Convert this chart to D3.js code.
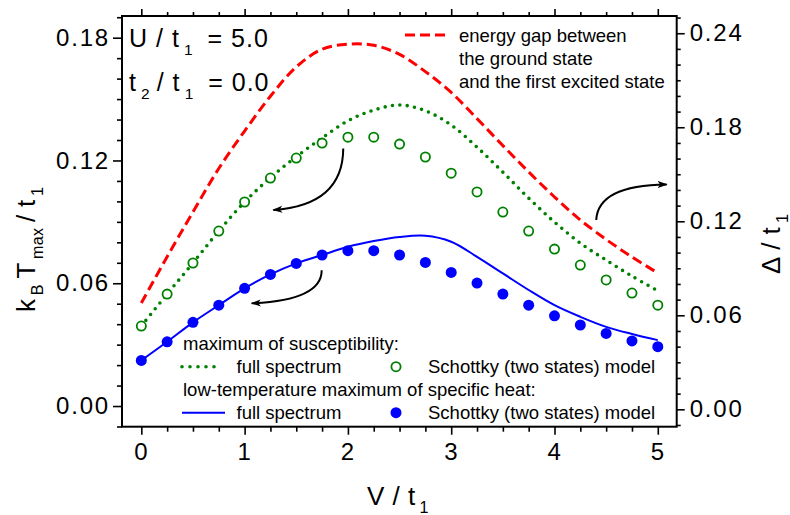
<!DOCTYPE html>
<html>
<head>
<meta charset="utf-8">
<script src="https://cdn.jsdelivr.net/npm/d3@7"></script>
<style>
  body { margin: 0; background: #fff; }
  text { font-family: "Liberation Sans", Arial, sans-serif; fill: #000; }
</style>
</head>
<body>
<svg id="chart"></svg>
<script>
// V / t1 grid
const vValues = [0, 0.25, 0.5, 0.75, 1, 1.25, 1.5, 1.75, 2, 2.25, 2.5, 2.75, 3, 3.25, 3.5, 3.75, 4, 4.25, 4.5, 4.75, 5];

// maximum of susceptibility (left axis)
const chiFull = [0.0391, 0.0547, 0.0699, 0.0855, 0.0997, 0.1116, 0.1218, 0.1310, 0.1394, 0.1446, 0.1471, 0.1443, 0.1373, 0.1265, 0.1143, 0.1016, 0.0899, 0.0796, 0.0713, 0.0635, 0.0563];
const chiSchottky = [0.0391, 0.0547, 0.0699, 0.0855, 0.0997, 0.1114, 0.1212, 0.1285, 0.1314, 0.1314, 0.1280, 0.1217, 0.1138, 0.1046, 0.0948, 0.0855, 0.0767, 0.0689, 0.0616, 0.0552, 0.0493];

// low-temperature maximum of specific heat (left axis)
const heatFull = [0.0223, 0.0314, 0.0409, 0.0493, 0.0575, 0.0643, 0.0697, 0.0738, 0.0778, 0.0806, 0.0826, 0.0832, 0.0803, 0.0729, 0.0648, 0.0567, 0.0493, 0.0436, 0.0387, 0.0352, 0.0322];
const heatSchottky = [0.0223, 0.0314, 0.0409, 0.0493, 0.0575, 0.0643, 0.0697, 0.0738, 0.0759, 0.0759, 0.0738, 0.0702, 0.0653, 0.0601, 0.0547, 0.0493, 0.0441, 0.0396, 0.0355, 0.0318, 0.0290];

// energy gap Delta / t1 (right axis)
const gapValues = [0.0678, 0.0974, 0.1259, 0.1537, 0.1776, 0.1998, 0.2185, 0.2298, 0.2330, 0.2323, 0.2265, 0.2155, 0.2022, 0.1855, 0.1683, 0.1515, 0.1355, 0.1208, 0.1084, 0.0972, 0.0870];

// tick labels
const xTicks = [0, 1, 2, 3, 4, 5];
const leftTicks = [0, 0.06, 0.12, 0.18];
const rightTicks = [0, 0.06, 0.12, 0.18, 0.24];

// curved arrows, in (V, left axis) coordinates: start, control, end
const arrows = [
  [[1.955, 0.1259], [1.952, 0.0982], [1.278, 0.0958]],
  [[1.746, 0.0664], [1.749, 0.0518], [1.069, 0.0502]],
  [[4.404, 0.0909], [4.421, 0.1080], [5.086, 0.1083]]
];

const W = 790, H = 515;
const margin = { top: 16, right: 113.3, bottom: 88.3, left: 122 };
const width = W - margin.left - margin.right;
const height = H - margin.top - margin.bottom;

const svg = d3.select('#chart').attr('width', W).attr('height', H);

const defs = svg.append('defs');
defs.append('marker')
  .attr('id', 'head')
  .attr('viewBox', '0 0 10 10')
  .attr('refX', 9).attr('refY', 5)
  .attr('markerWidth', 10).attr('markerHeight', 10)
  .attr('markerUnits', 'userSpaceOnUse')
  .attr('orient', 'auto')
  .append('path')
  .attr('d', 'M0,1.5 L10,5 L0,8.5 L2.5,5 Z')
  .attr('fill', '#000');

const chart = svg.append('g').attr('transform', `translate(${margin.left},${margin.top})`);

const x = d3.scaleLinear().domain([-0.187, 5.183]).range([0, width]);
const yL = d3.scaleLinear().domain([-0.0101, 0.1906]).range([height, 0]);
const yR = d3.scaleLinear().domain([-0.0111, 0.2510]).range([height, 0]);

const fmt = d3.format('.2f');
const xMinor = d3.range(0, 21).map(i => i * 0.25).filter(v => v % 1 !== 0);
const lMinor = d3.range(-1, 20).map(i => i / 100).filter(v => Math.round(v * 100) % 6 !== 0);
const rMinor = d3.range(-1, 26).map(i => i / 100).filter(v => Math.round(v * 100) % 6 !== 0);

function styleAxis(g) {
  g.select('.domain').remove();
  g.selectAll('line').attr('stroke', '#000').attr('stroke-width', 1.6);
  g.selectAll('text').style('font-size', '24px').style('letter-spacing', '1.8px').attr('fill', '#000');
}

// bottom axis
chart.append('g').attr('transform', `translate(0,${height})`)
  .call(d3.axisBottom(x).tickValues(xTicks).tickSize(8).tickPadding(8).tickFormat(d3.format('d')))
  .call(styleAxis);
chart.append('g').attr('transform', `translate(0,${height})`)
  .call(d3.axisBottom(x).tickValues(xMinor).tickSize(5).tickFormat(''))
  .call(styleAxis);
// top axis
chart.append('g')
  .call(d3.axisTop(x).tickValues(xTicks).tickSize(7).tickFormat(''))
  .call(styleAxis);
chart.append('g')
  .call(d3.axisTop(x).tickValues(xMinor).tickSize(4).tickFormat(''))
  .call(styleAxis);
// left axis
chart.append('g')
  .call(d3.axisLeft(yL).tickValues(leftTicks).tickSize(9).tickPadding(3).tickFormat(fmt))
  .call(styleAxis);
chart.append('g')
  .call(d3.axisLeft(yL).tickValues(lMinor).tickSize(5).tickFormat(''))
  .call(styleAxis);
// right axis
chart.append('g').attr('transform', `translate(${width},0)`)
  .call(d3.axisRight(yR).tickValues(rightTicks).tickSize(8).tickPadding(5).tickFormat(fmt))
  .call(styleAxis);
chart.append('g').attr('transform', `translate(${width},0)`)
  .call(d3.axisRight(yR).tickValues(rMinor).tickSize(4).tickFormat(''))
  .call(styleAxis);

// frame
chart.append('rect')
  .attr('width', width).attr('height', height)
  .attr('fill', 'none').attr('stroke', '#000').attr('stroke-width', 2);

const plot = chart.append('g');

const lineL = d3.line().x((d, i) => x(vValues[i])).y(d => yL(d)).curve(d3.curveCatmullRom);
const lineR = d3.line().x((d, i) => x(vValues[i])).y(d => yR(d)).curve(d3.curveCatmullRom);

// energy gap
plot.append('path').datum(gapValues)
  .attr('d', lineR).attr('fill', 'none')
  .attr('stroke', '#ff0000').attr('stroke-width', 3)
  .attr('stroke-dasharray', '10,5');

// susceptibility, full spectrum
plot.append('path').datum(chiFull)
  .attr('d', lineL).attr('fill', 'none')
  .attr('stroke', '#008000').attr('stroke-width', 3.6)
  .attr('stroke-linecap', 'round')
  .attr('stroke-dasharray', '0,7.4');

// specific heat, full spectrum
plot.append('path').datum(heatFull)
  .attr('d', lineL).attr('fill', 'none')
  .attr('stroke', '#0000ff').attr('stroke-width', 2);

// Schottky points
plot.selectAll('.chi-pt').data(chiSchottky).join('circle')
  .attr('class', 'chi-pt')
  .attr('cx', (d, i) => x(vValues[i])).attr('cy', d => yL(d))
  .attr('r', 4.6).attr('fill', '#fff')
  .attr('stroke', '#008000').attr('stroke-width', 1.8);

plot.selectAll('.heat-pt').data(heatSchottky).join('circle')
  .attr('class', 'heat-pt')
  .attr('cx', (d, i) => x(vValues[i])).attr('cy', d => yL(d))
  .attr('r', 5.5).attr('fill', '#0000ff');

// arrows
plot.selectAll('.arrow').data(arrows).join('path')
  .attr('class', 'arrow')
  .attr('d', d => {
    const p = d.map(q => [x(q[0]), yL(q[1])]);
    return `M${p[0][0]},${p[0][1]} Q${p[1][0]},${p[1][1]} ${p[2][0]},${p[2][1]}`;
  })
  .attr('fill', 'none').attr('stroke', '#000').attr('stroke-width', 2)
  .attr('marker-end', 'url(#head)');

// text helpers
function subText(g, parts, size, spacing) {
  // parts: [text, isSub]
  const t = g.append('text').style('font-size', size + 'px')
    .style('letter-spacing', (spacing || 0) + 'px');
  let prevSub = false;
  parts.forEach(([s, sub]) => {
    const sp = t.append('tspan').text(s);
    if (sub && !prevSub) sp.attr('dy', size * 0.32).style('font-size', (size * 0.62) + 'px');
    else if (!sub && prevSub) sp.attr('dy', -size * 0.32);
    prevSub = sub;
  });
  return t;
}

// parameters
subText(svg.append('g').attr('transform', 'translate(129,47)'),
  [['U / t', false], ['\u20091', true], ['\u2009 = 5.0', false]], 25, 1);
subText(svg.append('g').attr('transform', 'translate(129,91)'),
  [['t', false], ['\u20092', true], ['\u2009/ t', false], ['\u20091', true], ['\u2009 = 0.0', false]], 25, 1);

// axis titles
subText(svg.append('g').attr('transform', 'translate(367,505)'),
  [['V / t', false], ['\u20091', true]], 26, 0.5);
subText(svg.append('g').attr('transform', 'translate(35,312) rotate(-90)'),
  [['k', false], ['\u2009B', true], ['\u2009T', false], ['\u2009max', true], ['\u2009/ t', false], ['\u20091', true]], 26, 0.3);
subText(svg.append('g').attr('transform', 'translate(780,274) rotate(-90)'),
  [['\u0394 / t', false], ['\u20091', true]], 26, 0.5);

// legends
const leg = svg.append('g').style('font-size', '18.5px');
leg.append('line').attr('x1', 405).attr('x2', 448).attr('y1', 35).attr('y2', 35)
  .attr('stroke', '#ff0000').attr('stroke-width', 3).attr('stroke-dasharray', '10,5');
['energy gap between', 'the ground state', 'and the first excited state'].forEach((s, i) => {
  leg.append('text').attr('x', 459).attr('y', 42 + i * 23).text(s);
});

leg.append('text').attr('x', 183).attr('y', 350).text('maximum of susceptibility:');
leg.append('line').attr('x1', 182).attr('x2', 222).attr('y1', 366.7).attr('y2', 366.7)
  .attr('stroke', '#008000').attr('stroke-width', 3.6).attr('stroke-linecap', 'round')
  .attr('stroke-dasharray', '0,8');
leg.append('text').attr('x', 236.5).attr('y', 373).text('full spectrum');
leg.append('circle').attr('cx', 396).attr('cy', 366.7).attr('r', 4.6)
  .attr('fill', '#fff').attr('stroke', '#008000').attr('stroke-width', 1.8);
leg.append('text').attr('x', 428).attr('y', 373).text('Schottky (two states) model');

leg.append('text').attr('x', 183).attr('y', 396).text('low-temperature maximum of specific heat:');
leg.append('line').attr('x1', 182).attr('x2', 225).attr('y1', 412.7).attr('y2', 412.7)
  .attr('stroke', '#0000ff').attr('stroke-width', 2);
leg.append('text').attr('x', 236.5).attr('y', 419).text('full spectrum');
leg.append('circle').attr('cx', 396).attr('cy', 412.7).attr('r', 5.5).attr('fill', '#0000ff');
leg.append('text').attr('x', 428).attr('y', 419).text('Schottky (two states) model');
</script>
</body>
</html>
